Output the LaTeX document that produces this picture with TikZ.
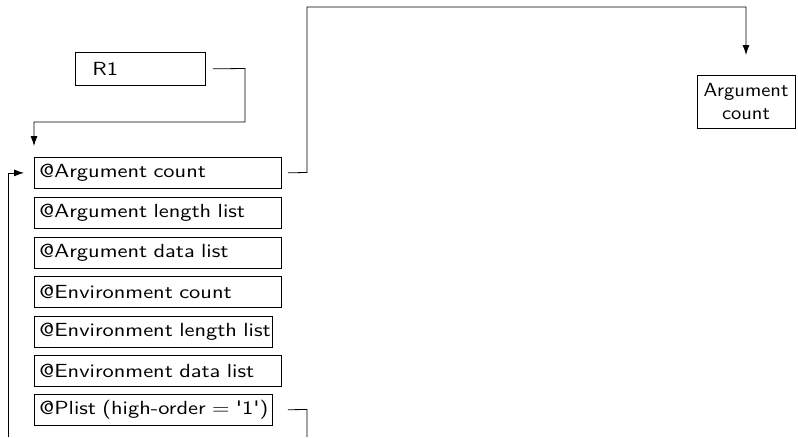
\documentclass[tikz,border=0pt]{standalone}
\usepackage{fontspec}
\newfontfamily\labelfont{lmsans10-regular.otf}[FakeStretch=1.18]
\newfontfamily\countfont{lmsans10-regular.otf}[FakeStretch=1.08]
\usepackage{tikz}
\usetikzlibrary{positioning}
\usetikzlibrary{arrows.meta}
\tikzset{>={Latex[length=10pt,width=7pt]}}
\tikzset{
  field/.style={draw, anchor=north west, minimum height=31pt, inner xsep=5pt,
    inner ysep=0pt, text width=237pt, align=left},
  short/.style={field, text width=228pt},
  link/.style={line width=0.8pt}
}

\begin{document}
\begin{tikzpicture}[x=1pt, y=-1pt, font=\labelfont\fontsize{19}{23}\selectfont, line width=0.8pt]

\useasboundingbox (0,0) rectangle (798,437);

% Register
\node[field, text width=96pt, inner xsep=17pt, minimum height=33pt] (r1) at (75,52) {R1};

% Parameter list
\node[field] (argc) at (34,157) {@Argument count};
\node[field] (arglen) at (34,197) {@Argument length list};
\node[field] (argdata) at (34,237) {@Argument data list};
\node[field] (envc) at (34,276) {@Environment count};
\node[short] (envlen) at (34,316) {\mbox{@Environment length list}};
\node[field] (envdata) at (34,355) {@Environment data list};
\node[short] (plist) at (34,394) {\mbox{@Plist (high-order = '1')}};

% Target
\node[draw, anchor=north, align=center, inner sep=2pt, minimum width=98pt,
  minimum height=53pt, font=\countfont\fontsize{19}{23}\selectfont] (count) at (746,75) {Argument\\count};

% Free ends
\coordinate (plistend) at (307,437);
\coordinate (loopend) at (8,437);

% Connectors
\draw[link, ->, shorten <=7pt, shorten >=11pt]
  (r1.east) -- (245,68.5) -- (245,122) -| (argc.north west);
\draw[link, ->, shorten <=6pt, shorten >=20pt]
  (argc.east) -- (307,172.5) -- (307,7) -| (count.north);
\draw[link, shorten <=15pt]
  (plist.east) -- (307,409.5) -- (plistend);
\draw[link, ->, shorten >=10pt]
  (loopend) |- (argc.west);

\end{tikzpicture}
\end{document}
